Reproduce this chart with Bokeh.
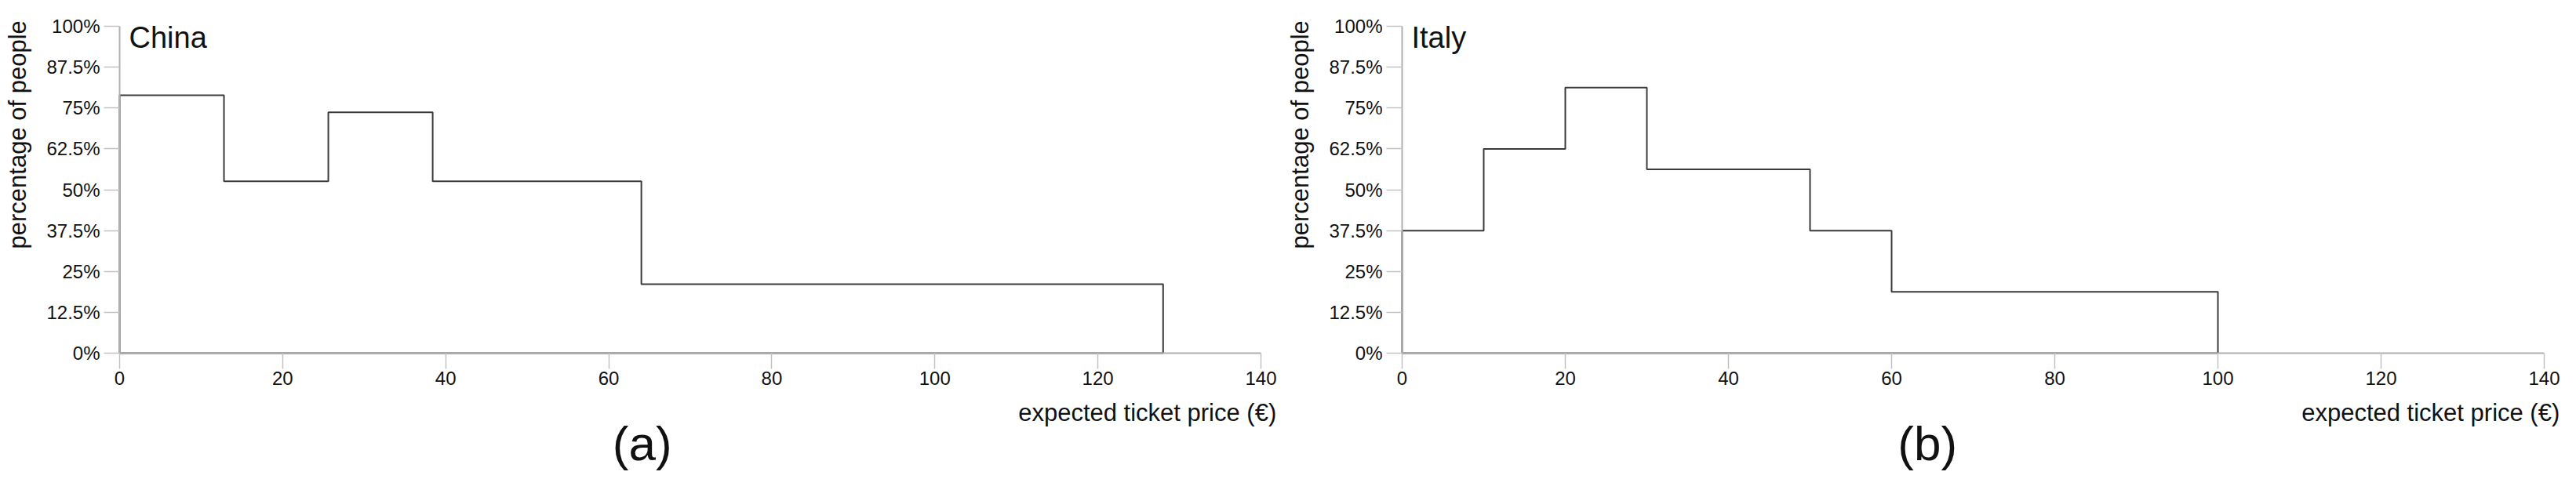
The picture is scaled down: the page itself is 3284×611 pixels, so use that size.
import math
from bokeh.plotting import figure
from bokeh.models import Label, FixedTicker, Range1d, LinearAxis
from bokeh.embed import file_html
from bokeh.resources import INLINE

# ---- data ----
china_edges = [0, 12.8, 25.6, 38.4, 64, 128]
china_pct = [78.9, 52.6, 73.7, 52.6, 21.1]
italy_edges = [0, 10, 20, 30, 50, 60, 100]
italy_pct = [37.5, 62.5, 81.25, 56.25, 37.5, 18.75]

x_ticks = [0, 20, 40, 60, 80, 100, 120, 140]
y_ticks = [0, 12.5, 25, 37.5, 50, 62.5, 75, 87.5, 100]
y_tick_labels = ["0%", "12.5%", "25%", "37.5%", "50%", "62.5%", "75%", "87.5%", "100%"]
countries = ["China", "Italy"]
captions = ["(a)", "(b)"]
x_label = "expected ticket price (€)"
y_label = "percentage of people"

FONT = "Liberation Sans"
TEXT = "#111111"
X_MAX = 140
Y_MAX = 100
FIG_W = 3282
FIG_H = 609
PLOT_TOP = 33      # px from figure top to the 100% line
PLOT_H = 417       # px height of the 0..100% area
# (left px of x=0, px width of 0..140) for each panel
PANELS = [(152, 1455), (1787, 1456)]
CAP_X = [64.1, 64.4]


def step_outline(edges, vals):
    xs = [edges[0]]
    ys = [0]
    for i, v in enumerate(vals):
        xs += [edges[i], edges[i + 1]]
        ys += [v, v]
    xs.append(edges[-1])
    ys.append(0)
    return xs, ys


def x_range_for(plot_left, plot_w):
    k = X_MAX / plot_w
    return Range1d(-plot_left * k, (FIG_W - plot_left) * k)


ys_per_px = Y_MAX / PLOT_H
y_range = Range1d(-(FIG_H - PLOT_TOP - PLOT_H) * ys_per_px, Y_MAX + PLOT_TOP * ys_per_px)

p = figure(width=FIG_W, height=FIG_H,
           x_range=x_range_for(*PANELS[0]), y_range=y_range,
           x_axis_type=None, y_axis_type=None,
           output_backend="svg", toolbar_location=None, min_border=0)
p.extra_x_ranges = {"italy": x_range_for(*PANELS[1])}
p.outline_line_color = None
p.grid.visible = False
p.background_fill_color = "white"
p.border_fill_color = "white"

series = [
    ("default", china_edges, china_pct),
    ("italy", italy_edges, italy_pct),
]

for i, (rname, edges, vals) in enumerate(series):
    xaxis = LinearAxis(fixed_location=0, bounds=(0, X_MAX), x_range_name=rname,
                       ticker=FixedTicker(ticks=x_ticks))
    yaxis = LinearAxis(fixed_location=0, bounds=(0, Y_MAX), x_range_name=rname,
                       ticker=FixedTicker(ticks=y_ticks))
    yaxis.major_label_overrides = dict(zip(y_ticks, y_tick_labels))
    for ax in (xaxis, yaxis):
        ax.axis_line_color = "#b0b0b0"
        ax.axis_line_width = 2
        ax.major_tick_line_color = "#c2c2c2"
        ax.major_tick_line_width = 1.5
        ax.major_tick_in = 0
        ax.major_tick_out = 20
        ax.minor_tick_line_color = None
        ax.major_label_text_font = FONT
        ax.major_label_text_font_size = "24px"
        ax.major_label_text_color = TEXT
    xaxis.major_label_standoff = 3
    yaxis.major_label_standoff = 5
    p.add_layout(xaxis, "below")
    p.add_layout(yaxis, "left")

    xs, ys = step_outline(edges, vals)
    p.patch(xs, ys, fill_color=None, line_color="#3a3a3a", line_width=2,
            x_range_name=rname)

    p.add_layout(Label(x=0, y=96.6, x_offset=12, text=countries[i], x_range_name=rname,
                       text_font=FONT, text_font_size="38px", text_color=TEXT,
                       text_baseline="alphabetic", text_align="left"))
    p.add_layout(Label(x=-12.5, y=31.9, angle=math.pi / 2, text=y_label, x_range_name=rname,
                       text_font=FONT, text_font_size="31px", text_color=TEXT,
                       text_baseline="alphabetic", text_align="left"))
    p.add_layout(Label(x=141.9, y=-18.2, text=x_label, x_range_name=rname,
                       text_font=FONT, text_font_size="31px", text_color=TEXT,
                       text_baseline="alphabetic", text_align="right"))
    p.add_layout(Label(x=CAP_X[i], y=-27.6, text=captions[i], x_range_name=rname,
                       text_font=FONT, text_font_size="62px", text_color=TEXT,
                       text_baseline="alphabetic", text_align="center"))

open("out.html", "w").write(file_html(p, INLINE))
